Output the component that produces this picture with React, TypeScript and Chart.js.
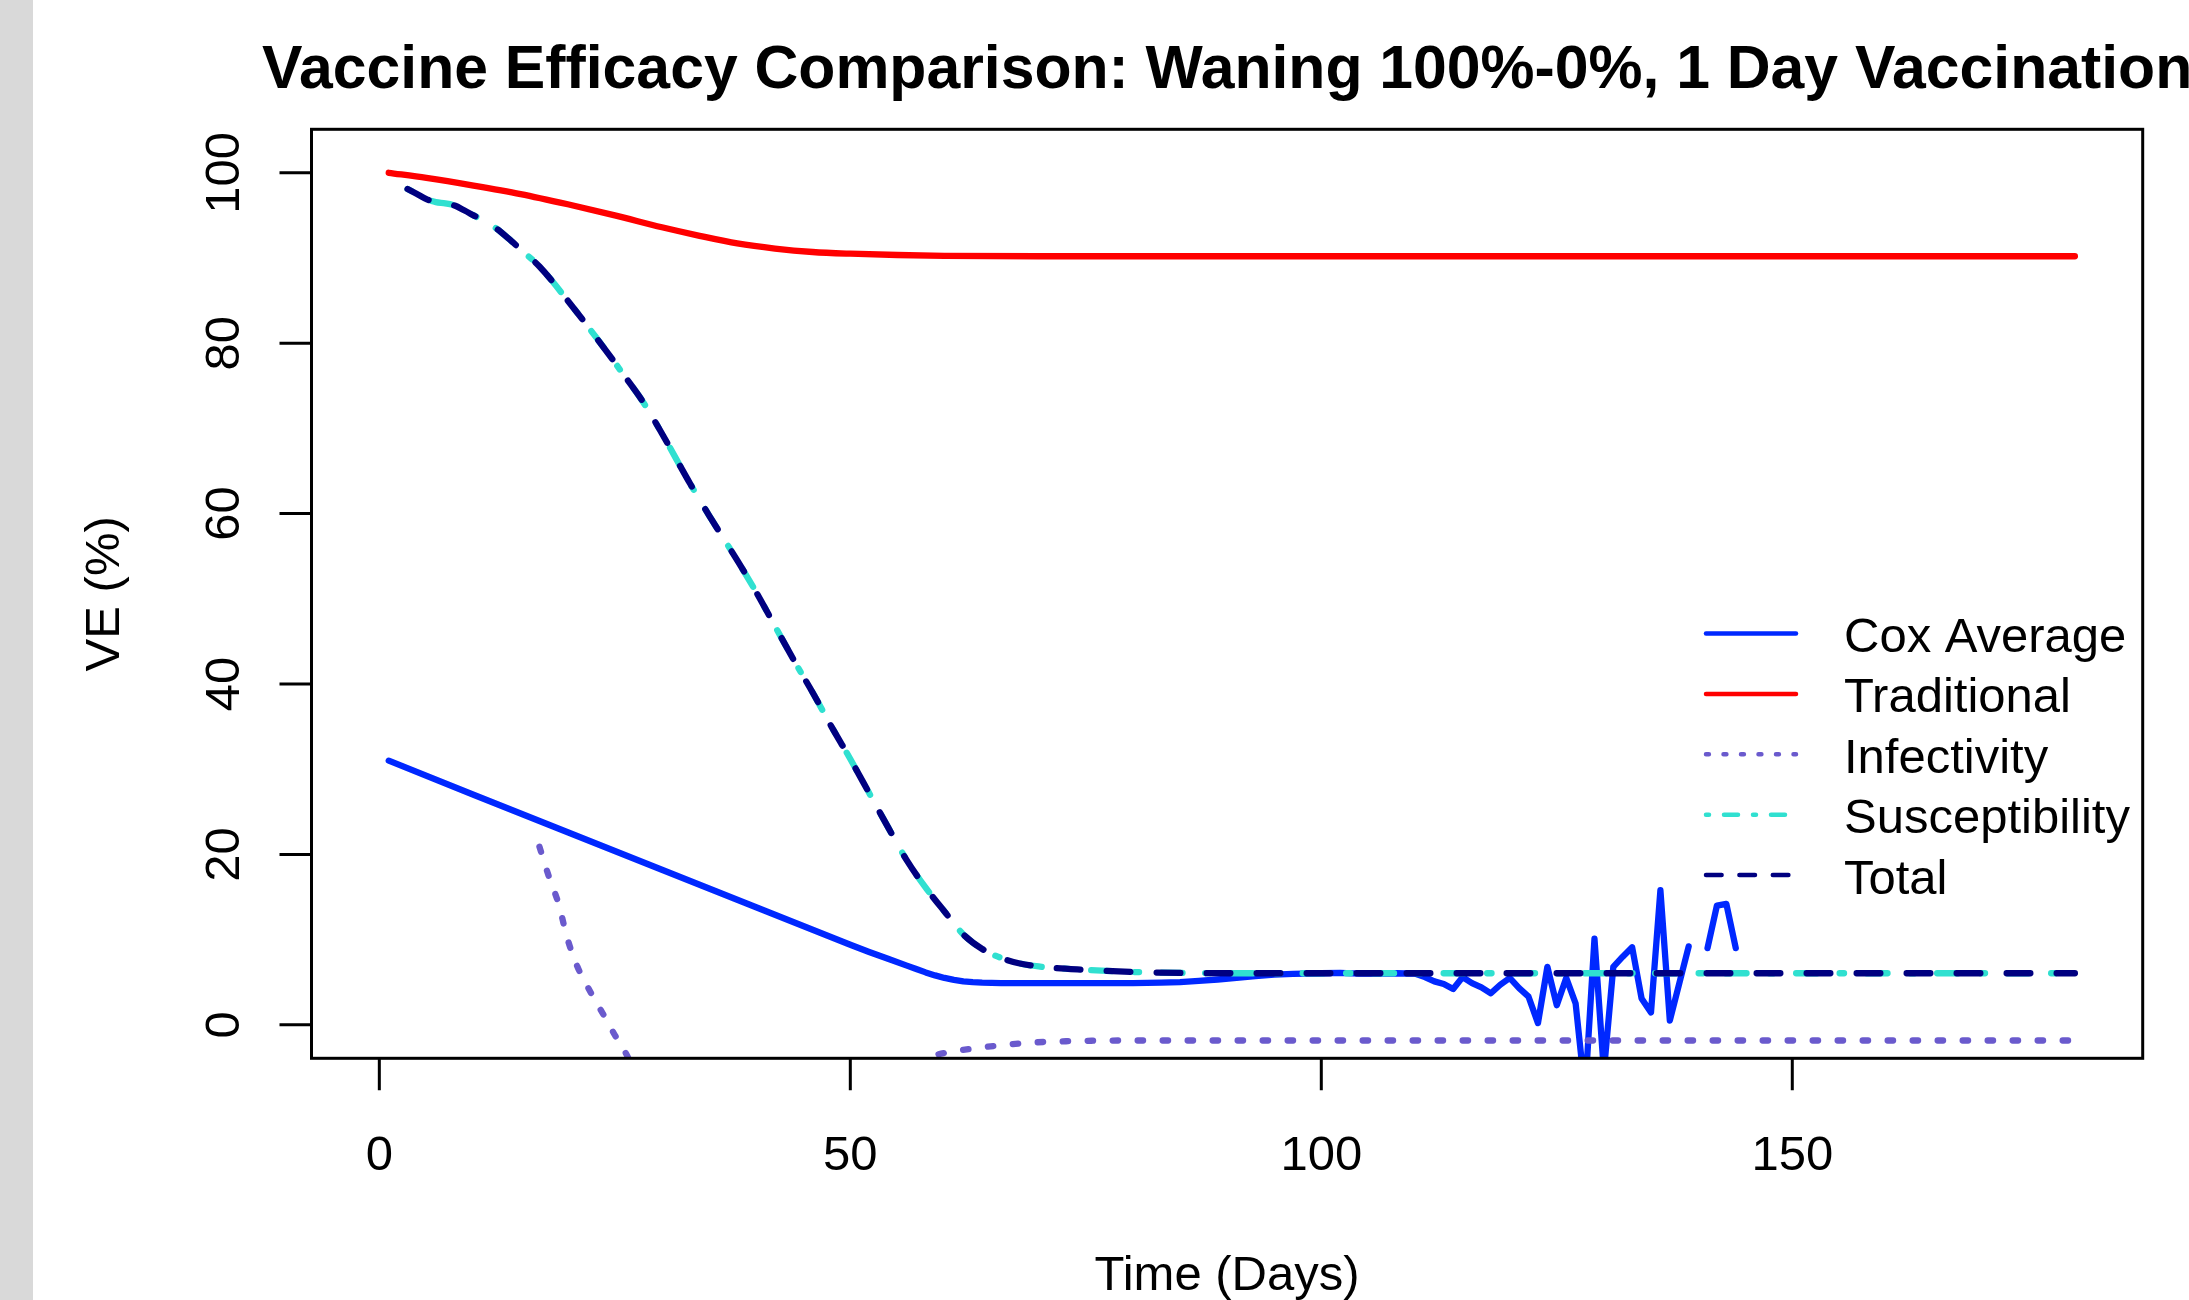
import React, { useEffect, useRef } from 'react';
import { Chart, registerables } from 'chart.js';

Chart.register(...registerables);

// ---------------- DATA ----------------
const chartTitle = 'Vaccine Efficacy Comparison: Waning 100%-0%, 1 Day Vaccination';
const xAxisTitle = 'Time (Days)';
const yAxisTitle = 'VE (%)';
const xTickValues = [0, 50, 100, 150];
const yTickValues = [0, 20, 40, 60, 80, 100];
const seriesNames = ['Cox Average', 'Traditional', 'Infectivity', 'Susceptibility', 'Total'];

const coxX = [1, 10, 20, 30, 40, 45, 50, 52, 54, 56, 57, 58, 59, 60, 61, 62, 63, 64, 66, 70, 75, 80, 83, 85, 87, 89, 91, 93, 95, 97, 100, 102, 104, 106, 108, 110,
  111, 112, 113, 114, 115, 116, 117, 118, 119, 120, 121, 122, 123, 124, 125, 126, 127, 128, 129, 130, 131, 132, 133, 134, 135, 136, 137, 138, 139, 140, 141, 142, 143, 144];
const coxY = [31.0, 27.0, 22.6, 18.2, 13.8, 11.6, 9.4, 8.55, 7.75, 6.95, 6.55, 6.15, 5.8, 5.5, 5.27, 5.1, 5.0, 4.95, 4.9, 4.9, 4.9, 4.9, 4.95, 5.02, 5.15, 5.32, 5.52, 5.72, 5.88, 5.98, 6.05, 6.1, 6.0, 6.0, 6.05, 6.0,
  5.6, 5.1, 4.8, 4.2, 5.6, 4.9, 4.4, 3.7, 4.7, 5.5, 4.3, 3.3, 0.2, 6.8, 2.3, 5.5, 2.5, -8.0, 10.1, -5.5, 6.8, 8.0, 9.1, 3.1, 1.45, 15.8, 0.5, 4.85, 9.2, null, 9.0, 14.0, 14.2, 9.0];

const tradX = [1, 5, 10, 15, 20, 25, 30, 34, 38, 42, 46, 50, 55, 60, 70, 80, 100, 120, 140, 160, 180];
const tradY = [100, 99.4, 98.5, 97.5, 96.3, 95.0, 93.6, 92.6, 91.7, 91.1, 90.7, 90.5, 90.35, 90.25, 90.2, 90.2, 90.2, 90.2, 90.2, 90.2, 90.2];

const infX = [17, 18, 19, 20, 21, 22, 23, 24, 25, 26, 27, 28, 30, 35, 40, 45, 50, 54, 56, 57, 58, 59, 61, 64, 66, 69, 74, 80, 100, 130, 160, 180];
const infY = [20.9, 17.4, 14.3, 10.0, 6.9, 4.7, 2.7, 0.8, -1.2, -3.0, -5.2, -8, -14, -25, -30, -28, -20, -10, -6, -4.6, -3.9, -3.55, -3.1, -2.65, -2.4, -2.1, -1.9, -1.84, -1.84, -1.84, -1.84, -1.84];

const susX = [3, 4, 5, 6, 7, 8, 9, 10, 12, 14, 15, 17, 20, 23, 26, 28, 30, 33, 35, 38, 40, 42, 44, 46, 48, 50, 52, 54, 56, 58, 60, 62, 64, 66, 68, 70, 75, 80, 87, 95, 120, 150, 180];
const susY = [98.1, 97.5, 96.9, 96.55, 96.4, 96.15, 95.6, 95.0, 93.8, 92.0, 91.0, 89.0, 85.0, 80.7, 76.2, 73.1, 69.4, 63.5, 59.8, 54.5, 50.8, 46.8, 42.8, 39.0, 35.0, 31.2, 27.2, 23.2, 19.3, 16.1, 13.3, 10.6, 8.9, 7.85, 7.2, 6.85, 6.45, 6.2, 6.07, 6.05, 6.05, 6.05, 6.05];

const totalX = [3, 4, 5, 6, 7, 8, 9, 10, 12, 14, 15, 17, 20, 23, 26, 28, 30, 33, 35, 38, 40, 42, 44, 46, 48, 50, 52, 54, 56, 58, 60, 62, 64, 66, 68, 70, 75, 80, 87, 95, 120, 150, 180];
const totalY = [98.1, 97.5, 96.9, 96.55, 96.4, 96.15, 95.6, 95.0, 93.8, 92.0, 91.0, 89.0, 85.0, 80.7, 76.2, 73.1, 69.4, 63.5, 59.8, 54.5, 50.8, 46.8, 42.8, 39.0, 35.0, 31.2, 27.2, 23.2, 19.3, 16.1, 13.3, 10.6, 8.9, 7.85, 7.2, 6.85, 6.45, 6.2, 6.07, 6.05, 6.05, 6.05, 6.05];

// ---------------- STYLE / LAYOUT ----------------
const W = 2189;
const H = 1300;
const AREA = { left: 311.5, right: 2142.7, top: 129.3, bottom: 1058.3 };
const X_RANGE = { min: -7.2, max: 187.2 };
const Y_RANGE = { min: -3.93, max: 105.1 };
const FONT = '"Liberation Sans", Arial, Helvetica, sans-serif';
const LINE_W = 6.3;
const LEGEND_LINE_W = 4.5;

const colors = ['#0028ff', '#ff0000', '#6a5acd', '#30e0d0', '#000080'];
const plotDash: number[][] = [[], [], [5.4, 19.6], [4.4, 22.6, 20.9, 22.6], [23.7, 26.3]];
const legendDash: number[][] = [[], [], [2.9, 14.6], [3, 15, 14, 15], [15.6, 17.8]];

const toPts = (xs: number[], ys: (number | null)[]) => xs.map((x, i) => ({ x, y: ys[i] }));

const rPlot = {
  id: 'rPlot',
  beforeDraw(chart: any) {
    const ctx = chart.ctx;
    ctx.save();
    ctx.fillStyle = '#ffffff';
    ctx.fillRect(0, 0, W, H);
    ctx.fillStyle = '#d9d9d9';
    ctx.fillRect(0, 0, 33, H);
    ctx.restore();
  },
  afterDraw(chart: any) {
    const ctx = chart.ctx as CanvasRenderingContext2D;
    const a = chart.chartArea;
    const xs = chart.scales.x;
    const ys = chart.scales.y;
    ctx.save();

    // box
    ctx.strokeStyle = '#000';
    ctx.lineWidth = 3;
    ctx.strokeRect(a.left, a.top, a.right - a.left, a.bottom - a.top);

    // ticks
    ctx.beginPath();
    xTickValues.forEach((v) => {
      const px = xs.getPixelForValue(v);
      ctx.moveTo(px, a.bottom);
      ctx.lineTo(px, a.bottom + 32);
    });
    yTickValues.forEach((v) => {
      const py = ys.getPixelForValue(v);
      ctx.moveTo(a.left, py);
      ctx.lineTo(a.left - 32, py);
    });
    ctx.stroke();

    // tick labels
    ctx.fillStyle = '#000';
    ctx.font = `49px ${FONT}`;
    ctx.textAlign = 'center';
    ctx.textBaseline = 'alphabetic';
    xTickValues.forEach((v) => {
      ctx.fillText(String(v), xs.getPixelForValue(v), 1170);
    });
    yTickValues.forEach((v) => {
      ctx.save();
      ctx.translate(238.5, ys.getPixelForValue(v));
      ctx.rotate(-Math.PI / 2);
      ctx.fillText(String(v), 0, 0);
      ctx.restore();
    });

    // axis titles
    const cx = (a.left + a.right) / 2;
    const cy = (a.top + a.bottom) / 2;
    ctx.fillText(xAxisTitle, cx, 1290);
    ctx.save();
    ctx.translate(118.5, cy);
    ctx.rotate(-Math.PI / 2);
    ctx.fillText(yAxisTitle, 0, 0);
    ctx.restore();

    // main title
    ctx.font = `bold 60px ${FONT}`;
    const w60 = ctx.measureText(chartTitle).width;
    const size = Math.max(54, Math.min(66, (60 * 1932) / w60));
    ctx.font = `bold ${size.toFixed(1)}px ${FONT}`;
    ctx.fillText(chartTitle, cx, 88.3);

    // legend
    ctx.font = `49px ${FONT}`;
    ctx.textAlign = 'left';
    seriesNames.forEach((name, i) => {
      const ry = 633.5 + i * 60.4;
      ctx.save();
      ctx.strokeStyle = colors[i];
      ctx.lineWidth = LEGEND_LINE_W;
      ctx.lineCap = 'round';
      ctx.setLineDash(legendDash[i]);
      ctx.beginPath();
      ctx.moveTo(1706, ry);
      ctx.lineTo(1796, ry);
      ctx.stroke();
      ctx.restore();
      ctx.fillStyle = '#000';
      ctx.fillText(name, 1844, ry + 18.5);
    });

    ctx.restore();
  },
};

export default function App() {
  const ref = useRef<HTMLCanvasElement | null>(null);

  useEffect(() => {
    document.body.style.margin = '0';
    const canvas = ref.current;
    if (!canvas) return;
    const series = [toPts(coxX, coxY), toPts(tradX, tradY), toPts(infX, infY), toPts(susX, susY), toPts(totalX, totalY)];
    const datasets = series.map((data, i) => ({
      label: seriesNames[i],
      data,
      borderColor: colors[i],
      backgroundColor: colors[i],
      borderWidth: LINE_W,
      borderDash: plotDash[i],
      borderCapStyle: 'round' as const,
      borderJoinStyle: 'round' as const,
      pointRadius: 0,
      fill: false,
      tension: 0,
      cubicInterpolationMode: (i === 0 ? 'default' : 'monotone') as any,
      capBezierPoints: false,
      spanGaps: false,
      clip: 0,
      order: seriesNames.length - i,
    }));

    const chart = new Chart(canvas, {
      type: 'line',
      data: { datasets },
      options: {
        responsive: false,
        animation: false,
        devicePixelRatio: 1,
        parsing: false as any,
        normalized: true,
        layout: {
          padding: {
            left: AREA.left,
            right: W - AREA.right,
            top: AREA.top,
            bottom: H - AREA.bottom,
          },
        },
        scales: {
          x: { type: 'linear', min: X_RANGE.min, max: X_RANGE.max, display: false },
          y: { type: 'linear', min: Y_RANGE.min, max: Y_RANGE.max, display: false },
        },
        plugins: {
          legend: { display: false },
          title: { display: false },
          tooltip: { enabled: false },
        },
        events: [],
      },
      plugins: [rPlot],
    });
    return () => chart.destroy();
  }, []);

  return (
    <div style={{ position: 'absolute', left: 0, top: 0, width: W, height: H }}>
      <canvas ref={ref} width={W} height={H} style={{ display: 'block', width: W, height: H }} />
    </div>
  );
}
